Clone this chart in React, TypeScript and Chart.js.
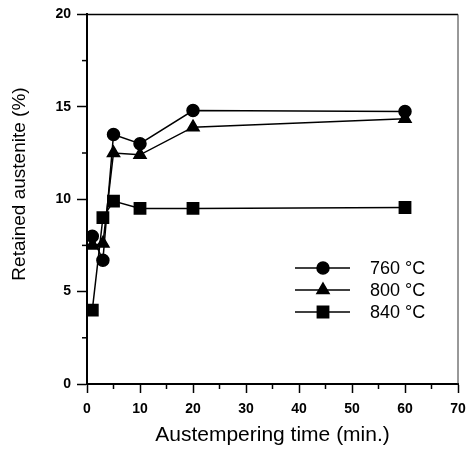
import React, { useEffect, useRef } from "react";
import { Chart, registerables } from "chart.js";
import { drawPoint } from "chart.js/helpers";

Chart.register(...registerables);

const seriesLabels = ["760 \u00B0C", "800 \u00B0C", "840 \u00B0C"];
const times760 = [1, 3, 5, 10, 20, 60];
const values760 = [8.0, 6.7, 13.5, 13.0, 14.8, 14.75];
const times800 = [1, 3, 5, 10, 20, 60];
const values800 = [7.5, 7.6, 12.5, 12.4, 13.9, 14.35];
const times840 = [1, 3, 5, 10, 20, 60];
const values840 = [4.0, 9.0, 9.9, 9.5, 9.5, 9.55];
const xMinorTicks = [5, 15, 25, 35, 45, 55, 65];
const yMinorTicks = [2.5, 7.5, 12.5, 17.5];
const xTitle = "Austempering time (min.)";
const yTitle = "Retained austenite (%)";

const FONT = "'Liberation Sans', Arial, Helvetica, sans-serif";

function toPoints(xs: number[], ys: number[]) {
  return xs.map((x, i) => ({ x, y: ys[i] }));
}

const frameAndMinor = {
  id: "frameAndMinor",
  afterDraw(chart: any) {
    const { ctx, chartArea } = chart;
    const xs = chart.scales.x;
    const ys = chart.scales.y;
    ctx.save();
    ctx.strokeStyle = "#000";
    ctx.lineWidth = 1.5;
    ctx.beginPath();
    ctx.moveTo(chartArea.left, chartArea.top);
    ctx.lineTo(chartArea.right, chartArea.top);
    ctx.stroke();
    ctx.strokeStyle = "#333";
    ctx.lineWidth = 1;
    ctx.beginPath();
    ctx.moveTo(chartArea.right, chartArea.top);
    ctx.lineTo(chartArea.right, chartArea.bottom);
    ctx.stroke();
    ctx.strokeStyle = "#000";
    ctx.lineWidth = 1.5;
    xMinorTicks.forEach((v) => {
      const px = xs.getPixelForValue(v);
      ctx.beginPath();
      ctx.moveTo(px, chartArea.bottom);
      ctx.lineTo(px, chartArea.bottom + 5);
      ctx.stroke();
    });
    yMinorTicks.forEach((v) => {
      const py = ys.getPixelForValue(v);
      ctx.beginPath();
      ctx.moveTo(chartArea.left, py);
      ctx.lineTo(chartArea.left - 5, py);
      ctx.stroke();
    });
    // y-axis title
    ctx.save();
    ctx.translate(20, 184);
    ctx.rotate(-Math.PI / 2);
    ctx.fillStyle = "#000";
    ctx.font = `19px ${FONT}`;
    ctx.textAlign = "center";
    ctx.textBaseline = "middle";
    ctx.fillText(yTitle, 0, 0);
    ctx.restore();
    ctx.restore();
  },
};

const insideLegend = {
  id: "insideLegend",
  afterDraw(chart: any) {
    const { ctx } = chart;
    const lineX1 = 295;
    const lineX2 = 350;
    const markX = 323;
    const textX = 370;
    const rowY0 = 268;
    const rowGap = 22;
    ctx.save();
    chart.data.datasets.forEach((ds: any, i: number) => {
      const y = rowY0 + i * rowGap;
      ctx.strokeStyle = "#000";
      ctx.lineWidth = 1.5;
      ctx.beginPath();
      ctx.moveTo(lineX1, y);
      ctx.lineTo(lineX2, y);
      ctx.stroke();
      ctx.fillStyle = "#000";
      drawPoint(ctx, { pointStyle: ds.pointStyle, radius: ds.pointRadius, rotation: 0, borderWidth: 1 }, markX, y);
      ctx.fillStyle = "#000";
      ctx.font = `18px ${FONT}`;
      ctx.textBaseline = "middle";
      ctx.textAlign = "left";
      ctx.fillText(ds.label, textX, y + 1);
    });
    ctx.restore();
  },
};

export default function App() {
  const ref = useRef<HTMLCanvasElement | null>(null);
  useEffect(() => {
    document.body.style.margin = "0";
    const canvas = ref.current;
    if (!canvas) return;
    const mk = (label: string, data: any[], style: string, r: number) => ({
      label,
      data,
      pointStyle: style,
      pointRadius: r,
      pointHoverRadius: r,
      borderColor: "#000",
      backgroundColor: "#000",
      pointBackgroundColor: "#000",
      pointBorderColor: "#000",
      borderWidth: 1.5,
      showLine: true,
      tension: 0,
    });
    const chart = new Chart(canvas, {
      type: "scatter",
      data: {
        datasets: [
          mk(seriesLabels[0], toPoints(times760, values760), "circle", 6),
          mk(seriesLabels[1], toPoints(times800, values800), "triangle", 7),
          mk(seriesLabels[2], toPoints(times840, values840), "rect", 8),
        ],
      },
      options: {
        animation: false,
        responsive: false,
        maintainAspectRatio: false,
        layout: { padding: { left: 0, top: 13, right: 18, bottom: 0 } },
        plugins: {
          legend: { display: false },
          tooltip: { enabled: false },
        },
        scales: {
          x: {
            type: "linear",
            min: 0,
            max: 70,
            afterFit: (s: any) => {
              s.height = 67;
            },
            ticks: {
              stepSize: 10,
              maxRotation: 0,
              color: "#000",
              padding: 8,
              font: { family: FONT, size: 14, weight: "bold" },
            },
            grid: { drawOnChartArea: false, drawTicks: true, tickLength: 9, color: "#000", tickWidth: 1.5 },
            border: { display: true, color: "#000", width: 2 },
            title: {
              display: true,
              text: xTitle,
              color: "#000",
              font: { family: FONT, size: 21 },
              padding: { top: 0, bottom: 3 },
            },
          },
          y: {
            type: "linear",
            min: 0,
            max: 20,
            afterFit: (s: any) => {
              s.width = 87;
            },
            ticks: {
              stepSize: 5,
              color: "#000",
              padding: 6,
              font: { family: FONT, size: 14, weight: "bold" },
            },
            grid: { drawOnChartArea: false, drawTicks: true, tickLength: 10, color: "#000", tickWidth: 1.5 },
            border: { display: true, color: "#000", width: 2 },
            title: { display: false },
          },
        },
      },
      plugins: [frameAndMinor, insideLegend],
    });
    return () => chart.destroy();
  }, []);
  return <canvas ref={ref} width={476} height={451} style={{ display: "block" }} />;
}
